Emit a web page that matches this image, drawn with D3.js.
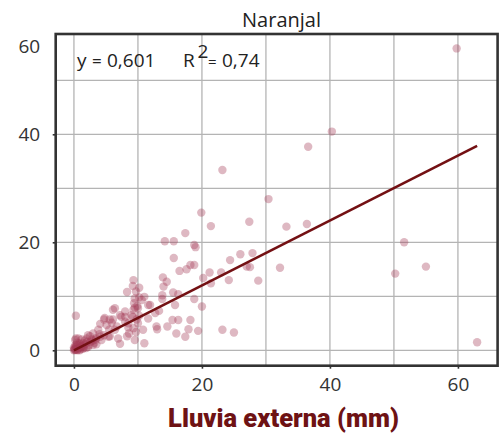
<!DOCTYPE html>
<html>
<head>
<meta charset="utf-8">
<script src="https://cdn.jsdelivr.net/npm/d3@7"></script>
<style>
  html, body { margin: 0; padding: 0; background: #fff; }
  svg { display: block; font-family: "Open Sans", "Noto Sans", sans-serif; }
</style>
</head>
<body>
<svg id="chart" width="499" height="434"></svg>
<script>
// Station name shown above the panel
const stationTitle = "Naranjal";
const xAxisTitle = "Lluvia externa (mm)";

// External rainfall (mm) for each event
const rainExternal = [
  59.8, 40.3, 36.6, 23.2, 30.4, 19.9, 21.4, 27.4, 33.2, 36.4, 27.9, 27.5, 28.8, 32.2, 51.6, 50.2, 55.0, 63.0,
  17.4, 14.2, 15.6, 18.8, 19.0, 15.6, 24.4, 26.0, 27.0, 18.2, 18.8, 17.6, 16.5, 21.2, 23.0, 20.2, 21.4, 24.2,
  13.9, 14.5, 14.0, 13.8, 15.5, 16.3, 13.8, 15.8, 18.8, 20.0, 11.9, 12.7, 13.3, 15.4, 16.3, 18.2, 17.9, 19.4,
  13.0, 14.6, 16.0, 17.4, 23.2, 25.0,
  9.3, 9.2, 10.2, 8.3, 9.7, 11.0, 10.2, 9.5, 9.4, 10.0, 11.6, 10.6, 9.9, 9.5, 9.3, 8.0, 6.4, 7.2, 7.4, 9.2,
  9.8, 9.0, 10.2, 8.0, 6.1, 4.8, 5.6, 4.7, 6.1, 4.1, 5.9, 5.1, 6.7, 5.5, 6.4, 8.5, 8.0, 8.5, 10.0, 9.3,
  10.8, 11.6, 12.9, 3.8, 3.0, 4.7, 5.4, 5.6, 4.3, 3.0, 2.5, 4.1, 3.4, 2.0, 1.2, 0.3, 0.7, 0.2, 1.5, 2.4,
  3.5, 3.0, 1.5, 0.3, 6.9, 7.2, 8.3, 8.6, 9.7, 9.5, 11.0,
  0.0, 0.1, 0.2, 0.3, 0.4, 0.5, 0.6, 0.8, 0.9, 1.0, 1.1, 1.2, 1.4, 0.2, 0.5, 0.7, 1.0, 1.3, 1.6, 1.8,
  2.0, 2.2, 2.6, 0.0, 0.4, 0.9, 1.7, 2.8, 3.5, 4.0, 2.2, 0.1, 0.6, 1.9, 3.2
];

// Rainfall (mm) recorded at the station for the same events
const rainStation = [
  55.9, 40.5, 37.7, 33.4, 28.0, 25.5, 23.0, 23.8, 22.9, 23.4, 18.0, 15.4, 12.9, 15.3, 20.0, 14.2, 15.5, 1.5,
  21.7, 20.2, 20.2, 19.5, 19.1, 17.1, 16.7, 17.8, 15.5, 15.8, 15.8, 15.0, 14.7, 14.4, 14.4, 13.4, 12.4, 13.0,
  13.5, 12.7, 11.8, 10.2, 10.7, 10.4, 9.5, 8.4, 9.5, 8.1, 8.4, 6.9, 7.3, 5.6, 5.6, 5.6, 3.9, 3.6,
  3.9, 4.4, 3.1, 2.5, 3.8, 3.3,
  13.0, 11.9, 11.6, 10.8, 10.9, 9.9, 9.8, 9.6, 8.7, 7.8, 8.4, 9.3, 8.2, 7.9, 7.5, 7.2, 7.8, 6.5, 6.2, 6.2,
  5.7, 6.5, 6.4, 6.2, 7.5, 6.0, 5.7, 5.7, 5.7, 4.9, 5.1, 4.7, 4.4, 3.8, 3.8, 4.2, 5.3, 5.0, 5.0, 4.1,
  3.8, 5.9, 4.4, 3.8, 3.1, 2.8, 2.5, 2.6, 1.9, 1.8, 2.6, 2.5, 2.0, 2.2, 2.0, 2.2, 2.2, 1.9, 1.3, 1.0,
  1.1, 1.0, 0.4, 6.4, 2.2, 1.2, 2.6, 3.1, 3.4, 1.9, 1.3,
  0.0, 0.3, 0.1, 0.6, 0.2, 0.0, 0.9, 0.5, 0.0, 0.2, 0.7, 0.8, 0.3, 0.9, 1.4, 0.4, 1.1, 0.6, 0.9, 1.2,
  1.5, 0.6, 1.6, 0.5, 1.0, 1.3, 1.8, 2.0, 2.3, 3.0, 2.8, 0.1, 0.1, 0.4, 1.4
];

// Fitted slope of the regression through the origin, and its R²
const slope = 0.601;
const slopeLabel = "0,601";
const r2Label = "0,74";

const xTicks = [0, 20, 40, 60];
const yTicks = [0, 20, 40, 60];
const xGrid = [0, 10, 20, 30, 40, 50, 60];
const yGrid = [0, 10, 20, 30, 40, 50];

const svg = d3.select("#chart");
const panel = { left: 55.7, right: 497.6, top: 34, bottom: 365.7 };

const x = d3.scaleLinear().domain([-2.85, 66.2]).range([panel.left, panel.right]);
const y = d3.scaleLinear().domain([-2.85, 58.57]).range([panel.bottom, panel.top]);

const data = rainExternal.map((v, i) => ({ x: v, y: rainStation[i] }));

// grid lines
const grid = svg.append("g").attr("stroke", "#b4b4b4").attr("stroke-width", 1.3);
grid.selectAll("line.gx").data(xGrid).join("line").attr("class", "gx")
  .attr("x1", d => x(d)).attr("x2", d => x(d))
  .attr("y1", panel.top).attr("y2", panel.bottom);
grid.selectAll("line.gy").data(yGrid).join("line").attr("class", "gy")
  .attr("x1", panel.left).attr("x2", panel.right)
  .attr("y1", d => y(d)).attr("y2", d => y(d));

// points
svg.append("g").selectAll("circle").data(data).join("circle")
  .attr("cx", d => x(d.x)).attr("cy", d => y(d.y)).attr("r", 4.2)
  .attr("fill", "#a33a55").attr("fill-opacity", 0.36);

// regression line y = slope * x over the data range
const xr = d3.extent(rainExternal);
svg.append("line")
  .attr("x1", x(xr[0])).attr("y1", y(slope * xr[0]))
  .attr("x2", x(xr[1])).attr("y2", y(slope * xr[1]))
  .attr("stroke", "#731013").attr("stroke-width", 2.6);

// panel frame
svg.append("rect")
  .attr("x", panel.left).attr("y", panel.top)
  .attr("width", panel.right - panel.left).attr("height", panel.bottom - panel.top)
  .attr("fill", "none").attr("stroke", "#333").attr("stroke-width", 2.6);

// axes
const xAxis = svg.append("g").attr("transform", `translate(0,${panel.bottom})`)
  .call(d3.axisBottom(x).tickValues(xTicks).tickSize(3).tickPadding(8.5).tickSizeOuter(0));
const yAxis = svg.append("g").attr("transform", `translate(${panel.left},0)`)
  .call(d3.axisLeft(y).tickValues(yTicks).tickSize(3).tickPadding(12.5).tickSizeOuter(0));

[xAxis, yAxis].forEach(g => {
  g.select(".domain").remove();
  g.selectAll(".tick line").attr("stroke", "#333").attr("stroke-width", 1.6);
  g.selectAll(".tick text").attr("fill", "#333").attr("font-size", 19)
    .attr("font-family", "'Open Sans', sans-serif");
});

// a tick label beyond the top of the panel is pinned just inside its upper edge
yAxis.selectAll(".tick").filter(d => d > y.domain()[1])
  .attr("transform", `translate(0,${panel.top + 13})`)
  .select("line").remove();

// title
svg.append("text")
  .attr("x", 281.5).attr("y", 26.5).attr("text-anchor", "middle")
  .attr("font-size", 20).attr("fill", "#222").text(stationTitle);

// fit annotation
const ann = svg.append("g").attr("fill", "#222").attr("font-size", 19);
ann.append("text").attr("x", 77).attr("y", 67).text("y");
ann.append("text").attr("x", 92).attr("y", 67).attr("font-size", 17).text("=");
ann.append("text").attr("x", 107).attr("y", 67).text(slopeLabel);
ann.append("text").attr("x", 183).attr("y", 67).text("R");
ann.append("text").attr("x", 197.5).attr("y", 58).attr("font-size", 19).text("2");
ann.append("text").attr("x", 208).attr("y", 67).attr("font-size", 15).text("=");
ann.append("text").attr("x", 222).attr("y", 67).text(r2Label);

// x axis title
svg.append("text")
  .attr("x", 283.5).attr("y", 427).attr("text-anchor", "middle")
  .attr("font-family", "Roboto, sans-serif").attr("font-weight", 900)
  .attr("font-size", 25.5).attr("fill", "#6e1214").text(xAxisTitle);
</script>
</body>
</html>
